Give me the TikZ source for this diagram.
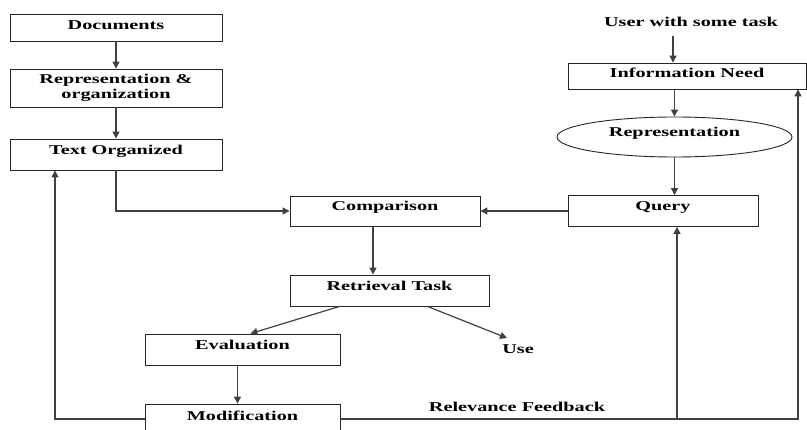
\documentclass[tikz,border=0pt]{standalone}
\usepackage{fontspec}
\setmainfont{Liberation Serif}[FakeStretch=1.5]
\usetikzlibrary{arrows.meta,shapes.geometric}
\begin{document}
\begin{tikzpicture}[x=1pt,y=-1pt,
  txtfont/.style={font=\bfseries\fontsize{13.5}{15}\selectfont, text=black},
  box/.style={txtfont, draw=black!85, line width=0.9pt, rectangle, inner sep=0pt,
    text height=10pt, text depth=10pt},
  twoline/.style={txtfont, draw=black!85, line width=0.9pt, rectangle, inner sep=0pt, align=center},
  oval/.style={box, ellipse},
  lbl/.style={txtfont, inner sep=1pt, text height=9.5pt, text depth=0pt},
  conn/.style={draw=black!75, line width=1.2pt},
  arr/.style={conn, -{Triangle[length=7pt,width=7pt]}}
]
\useasboundingbox (0,0) rectangle (807,430);
\clip (0,0) rectangle (807,430);

% left column
\node[box, text depth=5pt, minimum width=212pt, minimum height=27pt] (doc) at (116,27.5) {Documents};
\node[twoline, minimum width=212pt, minimum height=38pt] (rep) at (116,88) {Representation \&\\organization};
\node[box, minimum width=212pt, minimum height=31pt] (txt) at (116,154.5) {Text Organized};

% centre
\node[box, minimum width=190pt, minimum height=30pt] (comp) at (385,211) {Comparison};
\node[box, minimum width=199pt, minimum height=31pt] (ret) at (389.5,290.5) {Retrieval Task};
\node[box, minimum width=195pt, minimum height=31pt] (eval) at (242.5,349.5) {Evaluation};
\node[box, text depth=6pt, minimum width=195pt, minimum height=30pt] (mod) at (242.5,419) {Modification};
\node[lbl] (use) at (518,349) {Use};
\node[lbl] (relf) at (517,407) {Relevance Feedback};

% right column
\node[lbl] (user) at (691,22) {User with some task};
\node[box, text depth=6pt, minimum width=238pt, minimum height=26pt] (info) at (687,76) {Information Need};
\node[oval, minimum width=235pt, minimum height=40pt] (repr) at (674.5,137) {Representation};
\node[box, minimum width=190pt, minimum height=31pt] (query) at (663,211) {Query};

% connectors
\draw[arr] (doc.south) -- (rep.north);
\draw[arr] (rep.south) -- (txt.south |- txt.north);
\draw[arr] (txt.south) |- (comp.west);
\draw[arr] (query.west) -- (comp.east);
\draw[arr] ([xshift=-12pt]comp.south) -- ([xshift=-12pt]comp.south |- ret.north);
\draw[arr] ([xshift=-50pt]ret.south) -- ([xshift=8pt]eval.north);
\draw[arr] ([xshift=38pt]ret.south) -- ([xshift=-11pt,yshift=5pt]use.north);
\draw[arr] ([xshift=-5pt]eval.south) -- ([xshift=-5pt]eval.south |- mod.north);

\draw[arr] ([xshift=-18pt,yshift=-8pt]user.south) -- ([xshift=-18pt]user.south |- info.north);
\draw[arr] (info.south -| repr.north) -- (repr.north);
\draw[arr] (repr.south) -- (repr.south |- query.north);

% relevance feedback loop
\draw[arr] (mod.west) -| ([xshift=-61pt]txt.south);
\draw[arr] (mod.east) -| ([xshift=14pt]query.south);
\draw[arr] (mod.east) -| ([xshift=111pt]info.south);
\end{tikzpicture}
\end{document}
